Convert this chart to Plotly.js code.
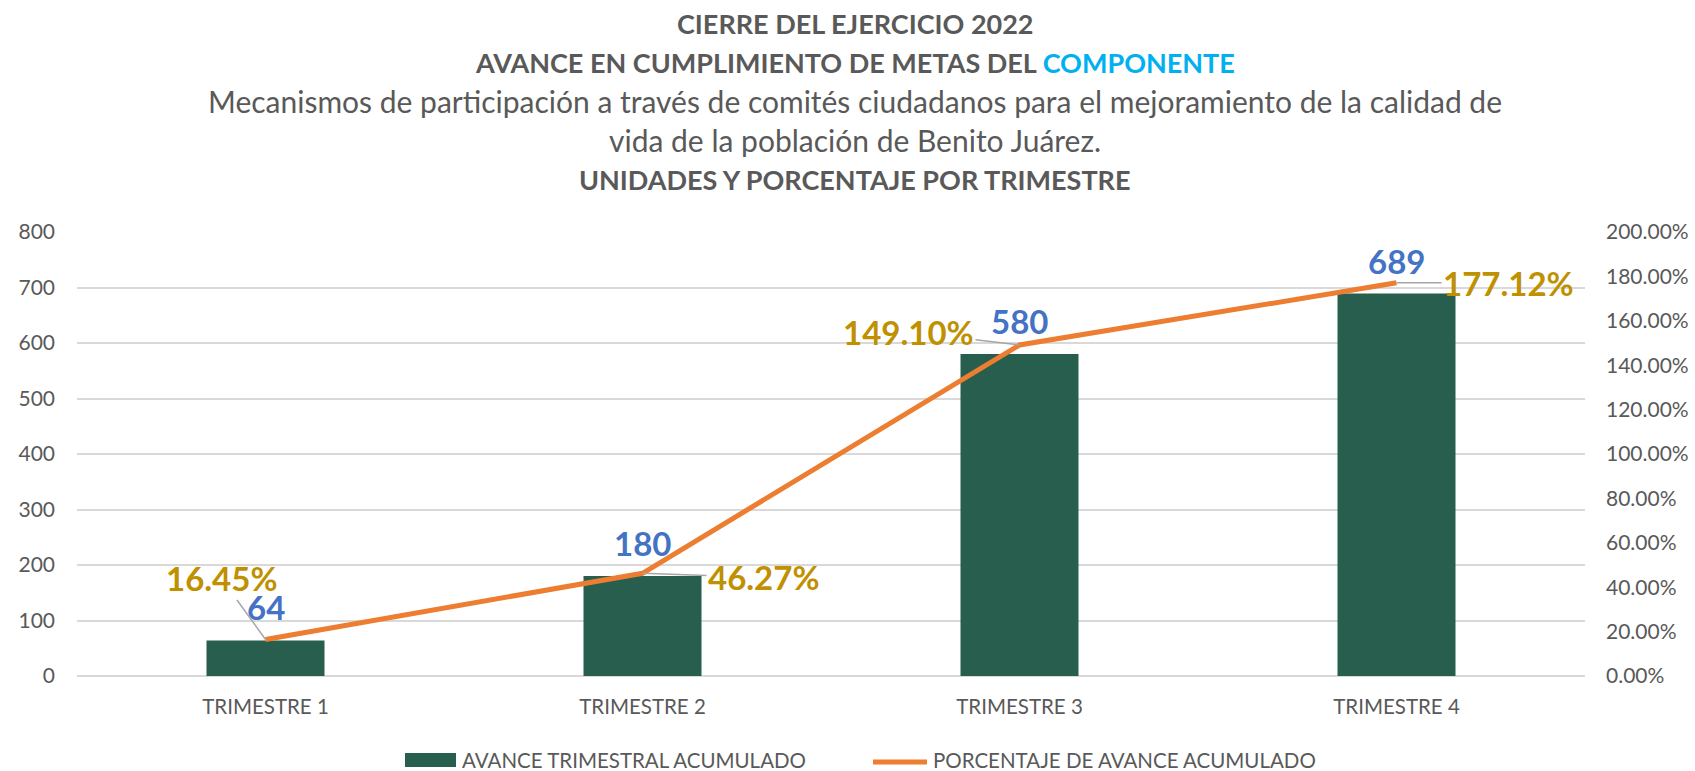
<!DOCTYPE html>
<html>
<head>
<meta charset="utf-8">
<script src="https://cdn.plot.ly/plotly-3.0.1.min.js"></script>
<style>html,body{margin:0;padding:0;background:#fff;}#chart{width:1695px;height:771px;}</style>
</head>
<body>
<div id="chart"></div>
<script>
const categories = ['TRIMESTRE 1', 'TRIMESTRE 2', 'TRIMESTRE 3', 'TRIMESTRE 4'];
const avanceTrimestral = [64, 180, 580, 689];
const porcentajeAvance = [0.1645, 0.4627, 1.4910, 1.7712];
const porcentajeLabels = ['16.45%', '46.27%', '149.10%', '177.12%'];
const avanceLabels = ['64', '180', '580', '689'];
const seriesNames = ['AVANCE TRIMESTRAL ACUMULADO', 'PORCENTAJE DE AVANCE ACUMULADO'];
const titleLines = [
  'CIERRE DEL EJERCICIO 2022',
  'AVANCE EN CUMPLIMIENTO DE METAS DEL <span style="color:#00B0F0">COMPONENTE</span>',
  'Mecanismos de participación a través de comités ciudadanos para el mejoramiento de la calidad de',
  'vida de la población de Benito Juárez.',
  'UNIDADES Y PORCENTAJE POR TRIMESTRE'
];

const FONT = 'Lato, "Open Sans", sans-serif';
const GREY = '#595959';
const BAR = '#275E4E';
const ORANGE = '#ED7D31';

const plotTop = 232, plotBottom = 676;

const traces = [
  {
    type: 'bar', name: seriesNames[0], x: categories, y: avanceTrimestral,
    marker: {color: BAR}, yaxis: 'y', hoverinfo: 'x+y'
  },
  {
    type: 'scatter', mode: 'lines', name: seriesNames[1], x: categories, y: porcentajeAvance,
    line: {color: ORANGE, width: 5}, yaxis: 'y2', cliponaxis: false
  }
];

const annotations = [];
// title lines
const titleY = [23, 62, 101, 140, 179];
const titleBold = [true, true, false, false, true];
const titleSize = [27, 27, 30, 30, 27];
titleLines.forEach((t, i) => {
  annotations.push({
    text: t, xref: 'paper', yref: 'paper', x: 0.5, y: 1, xshift: 24,
    yshift: plotTop - titleY[i], xanchor: 'center', yanchor: 'middle', showarrow: false,
    font: {family: FONT, size: titleSize[i], color: GREY, weight: titleBold[i] ? 700 : 400}
  });
});
// bar value labels
avanceLabels.forEach((t, i) => {
  annotations.push({
    text: t, xref: 'x', yref: 'y', x: categories[i], y: avanceTrimestral[i],
    yshift: 33, xanchor: 'center', yanchor: 'middle', showarrow: false,
    font: {family: FONT, size: 33, color: '#4472C4', weight: 700}
  });
});
// percentage labels with leader lines
const offX = [-44, 121, -111, 112];
const offY = [-61, 4, -13, 0];
porcentajeLabels.forEach((t, i) => {
  annotations.push({
    text: t, xref: 'x', yref: 'y2', x: categories[i], y: porcentajeAvance[i],
    ax: offX[i], ay: offY[i], showarrow: true, arrowhead: 0, arrowwidth: 1.5,
    arrowcolor: '#A6A6A6', standoff: 0,
    font: {family: FONT, size: 33, color: '#BF9000', weight: 700}
  });
});
// custom legend text
annotations.push({
  text: seriesNames[0], xref: 'paper', yref: 'paper', x: 0, y: 0, xshift: 383, yshift: -84,
  xanchor: 'left', yanchor: 'middle', showarrow: false,
  font: {family: FONT, size: 20.5, color: GREY}
});
annotations.push({
  text: seriesNames[1], xref: 'paper', yref: 'paper', x: 0, y: 0, xshift: 854, yshift: -84,
  xanchor: 'left', yanchor: 'middle', showarrow: false,
  font: {family: FONT, size: 20.5, color: GREY}
});

const shapes = [
  {type: 'rect', xref: 'paper', yref: 'paper', xsizemode: 'pixel', ysizemode: 'pixel',
   xanchor: 0, yanchor: 0, x0: 328, x1: 379, y0: -77, y1: -91,
   fillcolor: BAR, line: {width: 0}},
  {type: 'line', xref: 'paper', yref: 'paper', xsizemode: 'pixel', ysizemode: 'pixel',
   xanchor: 0, yanchor: 0, x0: 796, x1: 850, y0: -86, y1: -86,
   line: {color: ORANGE, width: 5}}
];

const layout = {
  width: 1695, height: 771,
  margin: {l: 77, r: 110, t: plotTop, b: 771 - plotBottom, pad: 0},
  paper_bgcolor: '#ffffff', plot_bgcolor: '#ffffff',
  showlegend: false,
  bargap: 0.687,
  font: {family: FONT, color: GREY},
  xaxis: {
    type: 'category', showgrid: false, zeroline: false, showline: false, ticks: '',
    tickfont: {family: FONT, size: 20.5, color: GREY}, ticklabelstandoff: 16
  },
  yaxis: {
    range: [0, 800], dtick: 100, tick0: 0, showgrid: true, gridcolor: '#D9D9D9', gridwidth: 1.5,
    zeroline: true, zerolinecolor: '#D9D9D9', zerolinewidth: 1.5, showline: false, ticks: '',
    tickfont: {family: FONT, size: 21, color: GREY}, ticklabelstandoff: 21
  },
  yaxis2: {
    range: [0, 2], dtick: 0.2, tick0: 0, tickformat: '.2%', overlaying: 'y', side: 'right',
    showgrid: false, zeroline: false, showline: false, ticks: '',
    tickfont: {family: FONT, size: 21, color: GREY}, ticklabelstandoff: 20
  },
  annotations: annotations,
  shapes: shapes
};

Plotly.newPlot('chart', traces, layout, {displayModeBar: false, responsive: false});
</script>
</body>
</html>
